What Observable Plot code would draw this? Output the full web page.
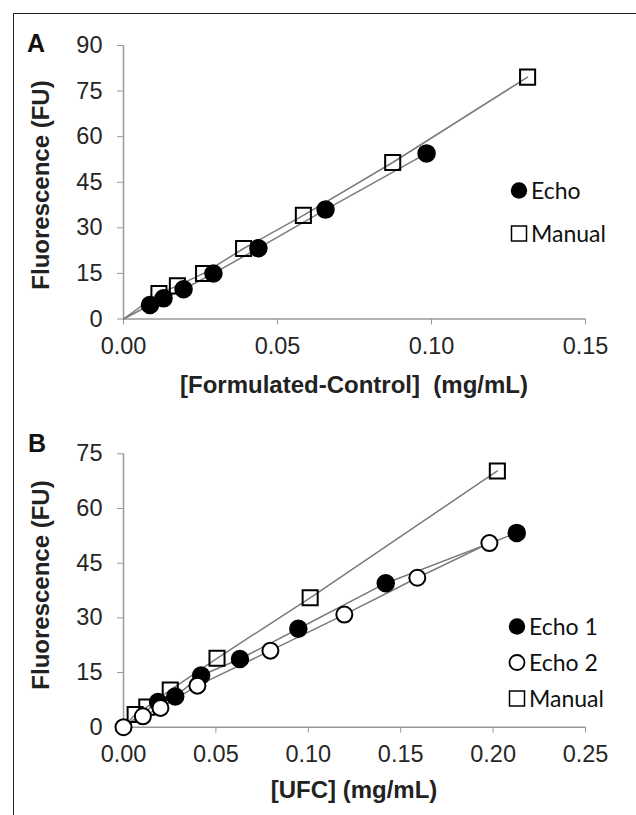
<!DOCTYPE html>
<html><head><meta charset="utf-8">
<script src="https://cdn.jsdelivr.net/npm/d3@7"></script>
<script src="https://cdn.jsdelivr.net/npm/@observablehq/plot@0.6"></script>
<style>
body{margin:0;background:#fff;}
#wrap{position:relative;width:636px;height:815px;overflow:hidden;font-family:"Liberation Sans",Arial,sans-serif;background:#fff;}
#frame{position:absolute;left:13px;top:13px;width:640px;height:830px;border:1.5px solid #222;box-sizing:border-box;}
.panel{position:absolute;left:0;}
.panel text{font-size:23.5px !important;fill:#262626;}
.lbl{position:absolute;font-weight:bold;font-size:25px;color:#111;line-height:1;}
.xt{position:absolute;font-weight:bold;font-size:24px;color:#222;white-space:pre;transform:translate(-50%,-50%);line-height:1;}
.yt{position:absolute;font-weight:bold;font-size:24px;color:#222;white-space:nowrap;transform:translate(-50%,-50%) rotate(-90deg);line-height:1;}
.leg{position:absolute;font-family:Lato,"Open Sans",sans-serif;font-size:23px;color:#111;line-height:1;display:flex;align-items:center;transform:translateY(-50%);}
.leg svg{margin-right:3px;}
g[aria-label="x-axis tick"], g[aria-label="y-axis tick"], .tick line {stroke:#999;}
</style>
</head><body>
<div id="wrap"><div id="frame"></div></div>
<script>
// ---- Panel A data ----
const aEchoX   = [0.0086, 0.0130, 0.0195, 0.0292, 0.0438, 0.0656, 0.0984];
const aEchoY   = [4.6, 6.8, 9.8, 15.0, 23.3, 36.0, 54.5];
const aManualX = [0.0115, 0.0175, 0.0260, 0.0390, 0.0584, 0.0874, 0.1312];
const aManualY = [8.4, 10.9, 15.0, 23.2, 34.1, 51.5, 79.6];
const aXTicks = [0, 0.05, 0.10, 0.15];
const aYTicks = [0, 15, 30, 45, 60, 75, 90];
// ---- Panel B data ----
const bEcho1X  = [0.0187, 0.0280, 0.0420, 0.0630, 0.0946, 0.1419, 0.2128];
const bEcho1Y  = [6.9, 8.4, 14.2, 18.7, 27.0, 39.5, 53.3];
const bEcho2X  = [0, 0.0105, 0.0200, 0.0400, 0.0795, 0.1195, 0.1590, 0.1980];
const bEcho2Y  = [0, 3.0, 5.3, 11.4, 21.0, 30.9, 41.0, 50.5];
const bManualX = [0.0063, 0.0126, 0.0253, 0.0506, 0.1010, 0.2023];
const bManualY = [3.5, 5.5, 10.2, 18.9, 35.5, 70.3];
const bXTicks = [0, 0.05, 0.10, 0.15, 0.20, 0.25];
const bYTicks = [0, 15, 30, 45, 60, 75];
const origin = {x: 0, y: 0};

const toPts = (xs, ys) => xs.map((x, i) => ({x, y: ys[i]}));
const LINE = {x: "x", y: "y", stroke: "#7a7a7a", strokeWidth: 1.5};
const filled = d => Plot.dot(d, {x: "x", y: "y", r: 8.5, fill: "#000", stroke: "#000"});
const hollow = d => Plot.dot(d, {x: "x", y: "y", r: 8, fill: "white", stroke: "#000", strokeWidth: 2});
const square = d => Plot.dot(d, {x: "x", y: "y", r: 8.5, symbol: "square", fill: "none", stroke: "#000", strokeWidth: 2});

function makePanel({height, mt, mb, xDomain, xTicks, yDomain, yTicks, series}) {
  const marks = [
    Plot.ruleX([0], {stroke: "#999", strokeWidth: 1.5}),
    Plot.ruleY([0], {stroke: "#999", strokeWidth: 1.5})
  ];
  for (const s of series) marks.push(Plot.line([origin, ...s.pts], LINE));
  for (const s of series) marks.push(s.mk(s.pts));
  return Plot.plot({
    width: 636, height,
    marginLeft: 123, marginRight: 51, marginTop: mt, marginBottom: mb,
    style: {fontFamily: "'Liberation Sans', Arial, sans-serif", fontSize: "23.5px", color: "#262626", background: "transparent", overflow: "visible"},
    x: {domain: xDomain, ticks: xTicks, tickFormat: d3.format(".2f"), tickSize: 6, tickPadding: 12, label: null},
    y: {domain: yDomain, ticks: yTicks, tickSize: 6, tickPadding: 15, label: null},
    marks
  });
}

const wrap = document.getElementById("wrap");
function place(node, top) { node.classList.add("panel"); node.style.top = top + "px"; wrap.appendChild(node); }

place(makePanel({height: 400, mt: 45, mb: 81.5, xDomain: [0, 0.15], xTicks: aXTicks, yDomain: [0, 90], yTicks: aYTicks,
  series: [{pts: toPts(aEchoX, aEchoY), mk: filled}, {pts: toPts(aManualX, aManualY), mk: square}]}), 0);
place(makePanel({height: 415, mt: 53.3, mb: 88.3, xDomain: [0, 0.25], xTicks: bXTicks, yDomain: [0, 75], yTicks: bYTicks,
  series: [{pts: toPts(bManualX, bManualY), mk: square}, {pts: toPts(bEcho1X, bEcho1Y), mk: filled}, {pts: toPts(bEcho2X, bEcho2Y), mk: hollow}]}), 400);

function html(cls, text, x, y) {
  const d = document.createElement("div"); d.className = cls; d.textContent = text;
  d.style.left = x + "px"; d.style.top = y + "px"; wrap.appendChild(d); return d;
}
html("lbl", "A", 27, 31);
html("lbl", "B", 28, 431);
html("xt", "[Formulated-Control]  (mg/mL)", 354, 385);
html("xt", "[UFC] (mg/mL)", 354, 790);
html("yt", "Fluorescence (FU)", 41, 185);
html("yt", "Fluorescence (FU)", 41, 585);

const sym = {
  filled: '<svg width="18" height="18"><circle cx="9" cy="9" r="8.2" fill="#000"/></svg>',
  hollow: '<svg width="18" height="18"><circle cx="9" cy="9" r="7.5" fill="none" stroke="#000" stroke-width="1.8"/></svg>',
  square: '<svg width="18" height="18"><rect x="1.5" y="1.5" width="15" height="15" fill="none" stroke="#000" stroke-width="1.5"/></svg>'
};
function leg(kind, text, x, y) {
  const d = document.createElement("div"); d.className = "leg";
  d.innerHTML = sym[kind] + "<span>" + text + "</span>";
  d.style.left = x + "px"; d.style.top = y + "px"; wrap.appendChild(d);
}
leg("filled", "Echo", 510, 190);
leg("square", "Manual", 510, 233);
leg("filled", "Echo 1", 508, 626);
leg("hollow", "Echo 2", 508, 662);
leg("square", "Manual", 508, 698);
</script>
</body></html>
